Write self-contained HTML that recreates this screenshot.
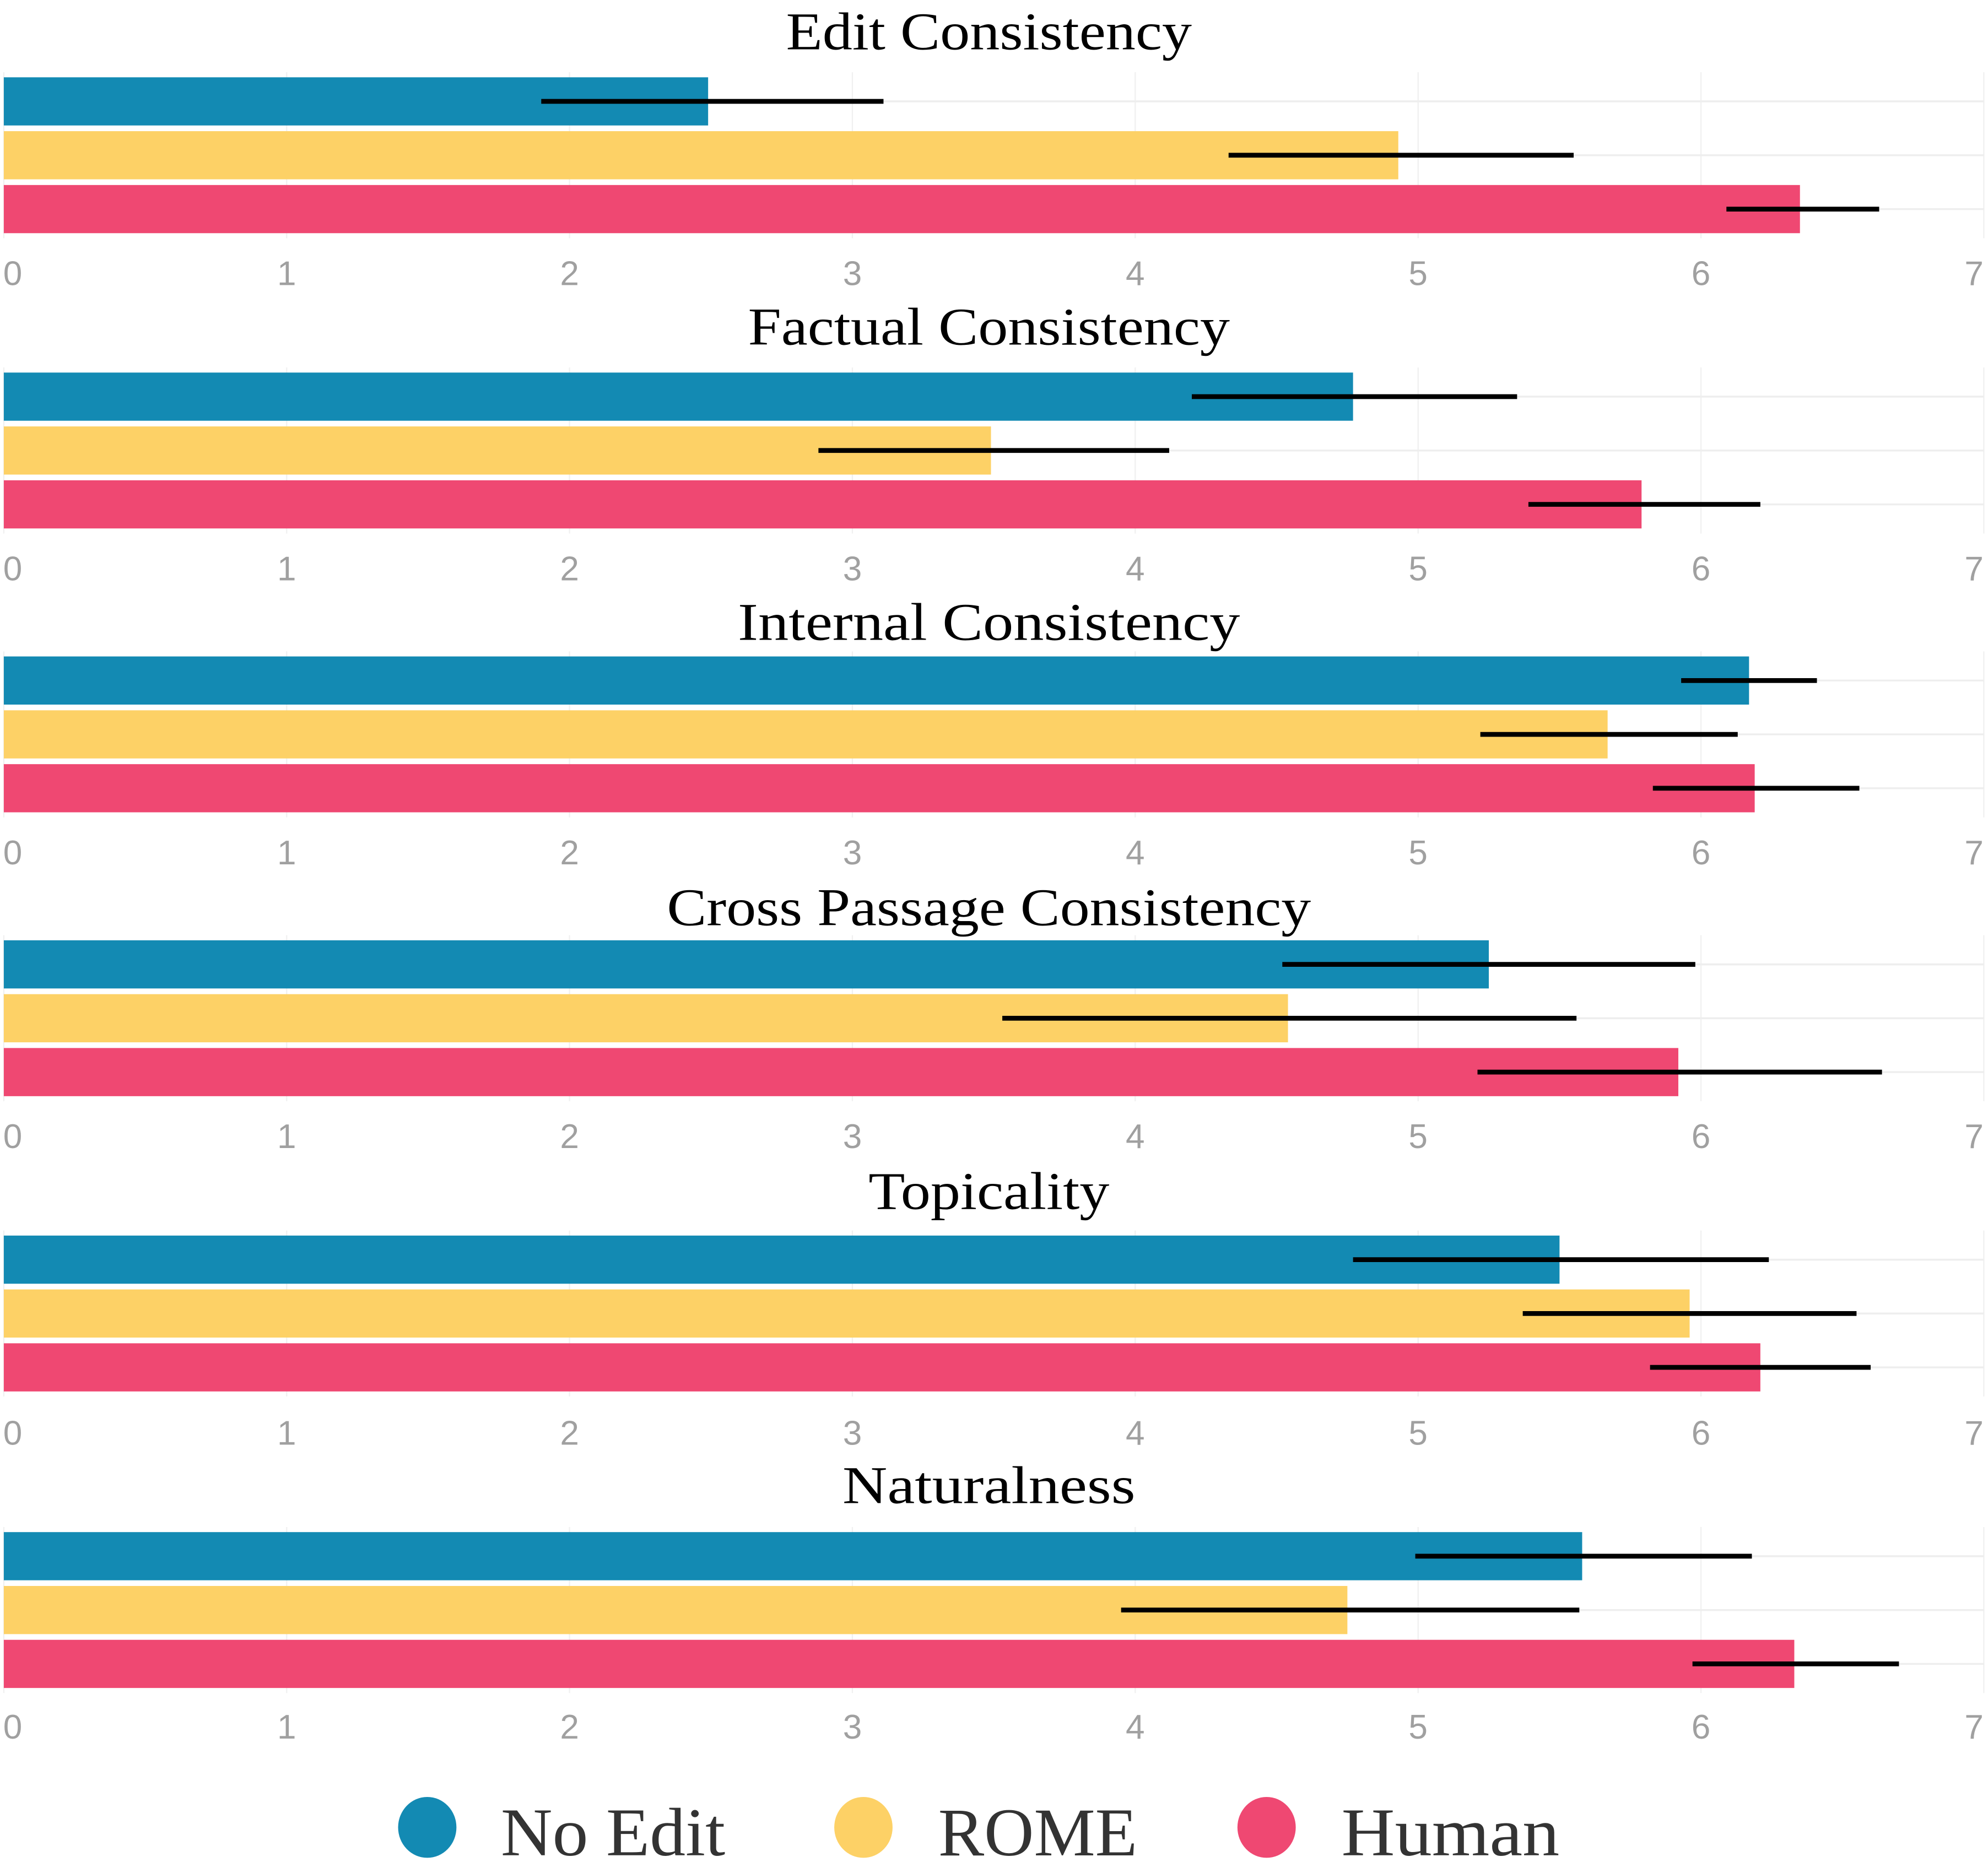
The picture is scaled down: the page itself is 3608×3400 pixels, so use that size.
<!DOCTYPE html>
<html><head><meta charset="utf-8"><style>
html,body{margin:0;padding:0;background:#fff;}
svg{display:block;}
</style></head><body>
<svg id="chart" xmlns="http://www.w3.org/2000/svg" width="3608" height="3400" viewBox="0 0 1568 1478" preserveAspectRatio="none"></svg>
<script>
const panels = ["Edit Consistency","Factual Consistency","Internal Consistency","Cross Passage Consistency","Topicality","Naturalness"];
const series = ["No Edit","ROME","Human"];
const colors = ["#138AB3","#FDD166","#EF4872"];
const noEditVals = [2.49,4.77,6.17,5.25,5.50,5.58];
const romeVals = [4.93,3.49,5.67,4.54,5.96,4.75];
const humanVals = [6.35,5.79,6.19,5.92,6.21,6.33];
const noEditLo = [1.90,4.20,5.93,4.52,4.77,4.99];
const noEditHi = [3.11,5.35,6.41,5.98,6.24,6.18];
const romeLo = [4.33,2.88,5.22,3.53,5.37,3.95];
const romeHi = [5.55,4.12,6.13,5.56,6.55,5.57];
const humanLo = [6.09,5.39,5.83,5.21,5.82,5.97];
const humanHi = [6.63,6.21,6.56,6.64,6.60,6.70];
const ticks = [0,1,2,3,4,5,6,7];

const vals=[noEditVals,romeVals,humanVals], los=[noEditLo,romeLo,humanLo], his=[noEditHi,romeHi,humanHi];
const svg=document.getElementById('chart');
const NS="http://www.w3.org/2000/svg";
const x0=3, unit=223.1;
const xs=v=>x0+v*unit;
const groupTop=[61,294,518,742,975,1209];
const titleY=[25,258,491,716,940,1172];
const titleW=[320,380,396,508,190,231];
const tickY=[215,448,672,896,1130,1362];
const barH=38, barStep=42.5;
function mk(tag,attrs,parent){const e=document.createElementNS(NS,tag);for(const k in attrs)e.setAttribute(k,attrs[k]);(parent||svg).appendChild(e);return e;}

panels.forEach((p,i)=>{
  const g=mk('g',{});
  
  
  const top=groupTop[i];
  ticks.forEach(t=>{
    const l=mk('line',{x1:xs(t),x2:xs(t),y1:top-4,y2:top+barStep*2+barH+4,stroke:'#f0f0f0','stroke-width':1},g);
    
    
  });
  for(let s=0;s<3;s++){
    const cy=top+s*barStep+barH/2;
    const l=mk('line',{x1:x0,x2:1565,y1:cy,y2:cy,stroke:'#eeeeee','stroke-width':1.5},g);
    
    
  }
  const t=mk('text',{x:780,y:titleY[i]+14,'text-anchor':'middle','font-family':'"Liberation Serif",serif','font-size':42,fill:'#000',textLength:titleW[i],lengthAdjust:'spacingAndGlyphs'},g);
  t.textContent=p;
  
  
  for(let s=0;s<3;s++){
    const y=top+s*barStep;
    const r=mk('rect',{x:x0,y:y,width:xs(vals[s][i])-x0,height:barH,fill:colors[s]},g);
    
    
    const cy=y+barH/2;
    const e=mk('line',{x1:xs(los[s][i]),x2:xs(his[s][i]),y1:cy,y2:cy,stroke:'#000','stroke-width':3.8},g);
    
    
  }
  ticks.forEach(tv=>{
    const tx=mk('text',{x:tv===0?10:(tv===7?1557:xs(tv)),y:tickY[i]+10,'text-anchor':'middle','font-family':'"Liberation Sans",sans-serif','font-size':27,fill:'#a0a0a0'},g);
    tx.textContent=tv;
    
    
  });
});
const legX=[337,681,999], legTX=[395,740,1058], legW=[177,157,172];
series.forEach((s,k)=>{
  const g=mk('g',{});
  
  
  mk('ellipse',{cx:legX[k],cy:1442,rx:23,ry:24,fill:colors[k]},g);
  const t=mk('text',{x:legTX[k],y:1464,'font-family':'"Liberation Serif",serif','font-size':54,fill:'#333',textLength:legW[k],lengthAdjust:'spacingAndGlyphs'},g);
  t.textContent=s;
});
</script>
</body></html>
